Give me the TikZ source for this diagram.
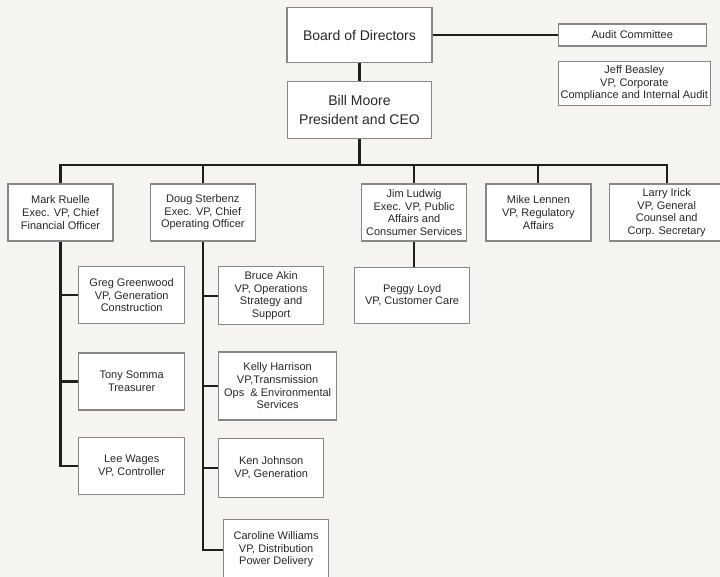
\documentclass[tikz,border=0pt]{standalone}
\usepackage{fontspec}
\setmainfont{Liberation Sans}
\usetikzlibrary{positioning}
\definecolor{boxgray}{RGB}{135,135,135}
\definecolor{linkblack}{RGB}{30,30,30}
\definecolor{textgray}{RGB}{40,40,40}
\definecolor{paper}{RGB}{245,244,241}

\begin{document}
\begin{tikzpicture}[x=1pt, y=-1pt,
    person/.style={rectangle, draw=boxgray, fill=white, line width=1.3pt, align=center, text=textgray,
        inner sep=1pt, minimum width=105pt, minimum height=57pt, font=\fontsize{11}{12.6}\selectfont},
    topbox/.style={person, minimum width=145pt, minimum height=55pt, font=\fontsize{14}{19}\selectfont},
    link/.style={draw=linkblack, line width=2.1pt}]
    \clip (0,0) rectangle (720,577);
    \fill[paper] (0,0) rectangle (720,577);
    % top of the chart
    \node [topbox] (board) at (359.5,35) {Board of Directors};
    \node [topbox, below=18pt of board, minimum width=144pt, minimum height=57pt] (ceo) {Bill Moore\\President and CEO};
    \node [person, right=125pt of board, minimum width=148pt, minimum height=22pt] (audit) {Audit Committee};
    \node [person, below=14pt of audit, xshift=2pt, minimum width=152pt, minimum height=44pt] (beasley) {Jeff Beasley\\VP, Corporate\\Compliance and Internal Audit};
    % direct reports
    \node [person] (ruelle) at (60.5,212.5) {Mark Ruelle\\Exec. VP, Chief\\Financial Officer};
    \node [person, right=36pt of ruelle] (sterbenz) {Doug Sterbenz\\Exec. VP, Chief\\Operating Officer};
    \node [person, right=105pt of sterbenz] (ludwig) {Jim Ludwig\\Exec. VP, Public\\Affairs and\\Consumer Services};
    \node [person, right=18pt of ludwig] (lennen) {Mike Lennen\\VP, Regulatory\\Affairs};
    \node [person, right=17pt of lennen, minimum width=115pt] (irick) {Larry Irick\\VP, General\\Counsel and\\Corp. Secretary};
    \node [person, below=25pt of ludwig, xshift=-2pt, minimum width=115pt, minimum height=56pt] (loyd) {Peggy Loyd\\VP, Customer Care};
    % finance column
    \node [person, anchor=north west, minimum width=106pt] (greenwood) at (78,266) {Greg Greenwood\\VP, Generation\\Construction};
    \node [person, below=28pt of greenwood, minimum width=106pt, minimum height=57pt] (somma) {Tony Somma\\Treasurer};
    \node [person, below=26pt of somma, minimum width=106pt] (wages) {Lee Wages\\VP, Controller};
    % operations column
    \node [person, anchor=north west, minimum height=58pt] (akin) at (218,266) {Bruce Akin\\VP, Operations\\Strategy and\\Support};
    \node [person, below=26pt of akin.south west, anchor=north west, minimum width=118pt, minimum height=68pt] (harrison) {Kelly Harrison\\VP,Transmission\\Ops~\ \& Environmental\\Services};
    \node [person, below=17pt of harrison.south west, anchor=north west, minimum height=59pt] (johnson) {Ken Johnson\\VP, Generation};
    \node [person, below=21pt of johnson.south west, anchor=north west, xshift=5pt, minimum height=60pt] (williams) {Caroline Williams\\VP, Distribution\\Power Delivery};
    \coordinate (bus) at (0,165);
    \draw[link] (board.east) -- (audit.west);
    \draw[link] (board.south) -- (ceo.north);
    \foreach \n in {ruelle, sterbenz, ludwig, lennen, irick}
        \draw[link] (ceo.south) -- (ceo.south |- bus) -| (\n.north);
    \draw[link] (ludwig.south) -- (ludwig.south |- loyd.north);
    \foreach \n in {greenwood, somma, wages}
        \draw[link] (ruelle.south) |- (\n.west);
    \foreach \n in {akin, harrison, johnson, williams}
        \draw[link] (sterbenz.south) |- (\n.west);
\end{tikzpicture}
\end{document}
